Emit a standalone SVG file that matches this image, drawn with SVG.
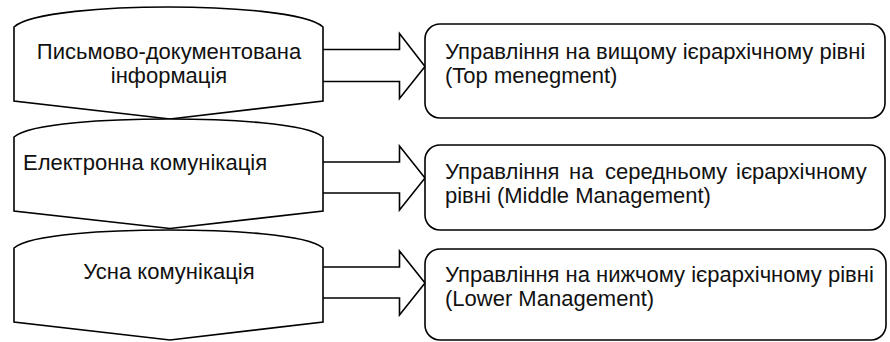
<svg xmlns="http://www.w3.org/2000/svg" width="890" height="342" viewBox="0 0 890 342">
<style>
.shape{fill:#fff;stroke:#000;stroke-width:1.6;stroke-linejoin:miter}
.arrow{fill:#fff;stroke:#000;stroke-width:1.6}
.box{fill:#fff;stroke:#000;stroke-width:1.6}
text{font-family:"Liberation Sans",Arial,sans-serif;font-size:22px;fill:#111}
.c{text-anchor:middle}
</style>
<rect width="890" height="342" fill="#fff"/>
<g id="connectors">
<path class="arrow" d="M323 49.5 H399.5 V33.5 L425 66.5 L399.5 98.5 V81.5 H323"/>
<path class="arrow" d="M323 162 H399.5 V146 L425 178 L399.5 210 V193 H323"/>
<path class="arrow" d="M323 267 H399.5 V251 L425 283 L399.5 315 V298 H323"/>
</g>
<g id="src1">
<path class="shape" d="M14 27 C30 12, 110 7, 168.5 7 C227 7, 307 12, 323 27 V101 L170 119 L14 101 Z"/>
<text class="c" x="169" y="59">Письмово-документована</text>
<text class="c" x="169" y="83">інформація</text>
</g>
<g id="src2">
<path class="shape" d="M14 137 C30 123, 110 119, 168.5 119 C227 119, 307 123, 323 137 V211 L170 228.5 L14 211 Z"/>
<text x="23" y="170">Електронна комунікація</text>
</g>
<g id="src3">
<path class="shape" d="M14 248 C30 234, 110 230, 168.5 230 C227 230, 307 234, 323 248 V322 L170 340 L14 322 Z"/>
<text class="c" x="169" y="279">Усна комунікація</text>
</g>
<g id="dst1">
<rect class="box" x="425" y="24" width="460" height="94" rx="15"/>
<text x="445" y="59">Управління на вищому ієрархічному рівні</text>
<text x="445" y="83">(Top menegment)</text>
</g>
<g id="dst2">
<rect class="box" x="425" y="145" width="460" height="85" rx="15"/>
<text y="179"><tspan x="445">Управління</tspan><tspan x="569">на</tspan><tspan x="605">середньому</tspan><tspan x="736">ієрархічному</tspan></text>
<text x="445" y="203">рівні (Middle Management)</text>
</g>
<g id="dst3">
<rect class="box" x="425" y="249" width="461" height="91" rx="15"/>
<text x="445" y="282">Управління на нижчому ієрархічному рівні</text>
<text x="445" y="306">(Lower Management)</text>
</g>
</svg>
